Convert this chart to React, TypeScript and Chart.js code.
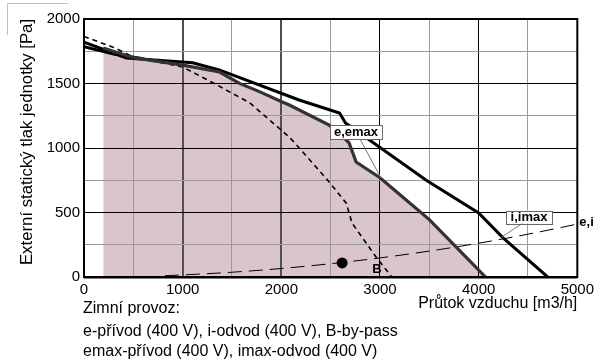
import React, { useEffect, useRef } from 'react';
import { Chart, registerables } from 'chart.js';
Chart.register(...registerables);

// ---- data ----
const xTickLabels = ['0', '1000', '2000', '3000', '4000', '5000'];
const yTickLabels = ['0', '500', '1000', '1500', '2000'];

// i / imax (thick solid)
const curveI: number[][] = [
  [0, 1820], [430, 1698], [1100, 1660], [1370, 1605], [2180, 1372], [2590, 1271],
  [2650, 1194], [3465, 752], [4000, 496], [4250, 302], [4700, 0],
];
const curveImax: number[][] = [[0, 1785], [300, 1728], [600, 1692]];

// e / emax (shaded area boundary)
const curveE: number[][] = [
  [195, 1775], [500, 1700], [1000, 1643], [1374, 1589], [1576, 1501], [1778, 1437],
  [2010, 1357], [2081, 1333], [2485, 1178], [2636, 1078], [2687, 1039], [2758, 891],
  [3000, 770], [3200, 640], [3500, 445], [3800, 210], [4070, 0],
];

// B by-pass (short dashes)
const curveB: number[][] = [
  [0, 1865], [300, 1780], [500, 1705], [1000, 1628], [1320, 1500], [1680, 1350],
  [2080, 1085], [2182, 1000], [2470, 750], [2657, 574], [2717, 418], [2960, 155], [3120, 0],
];

// system curve e,i (long dashes)
const systemCurve: number[][] = [
  [820, 10], [1000, 16], [1500, 37], [2000, 66], [2500, 103], [3000, 148],
  [3500, 201], [4000, 262], [4500, 332], [5000, 410],
];

const workPoint: number[][] = [[2616, 109]];

const yTitle = 'Externí statický tlak jednotky [Pa]';
const xTitle = 'Průtok vzduchu [m3/h]';
const noteLines = [
  'Zimní provoz:',
  'e-přívod (400 V), i-odvod (400 V), B-by-pass',
  'emax-přívod (400 V), imax-odvod (400 V)',
];
const labelE = 'e,emax';
const labelI = 'i,imax';
const labelSys = 'e,i';
const labelB = 'B';

const FONT = '"Liberation Sans", Arial, sans-serif';
const FILL = '#d9c5ca';

const pts = (a: number[][]) => a.map(([x, y]) => ({ x, y }));

const decor = {
  id: 'decor',
  afterDraw(chart: any) {
    const { ctx, chartArea: ca, scales } = chart;
    const xs = scales.x, ys = scales.y;
    ctx.save();
    // frame
    ctx.strokeStyle = '#000';
    ctx.lineWidth = 2;
    ctx.strokeRect(ca.left, ca.top, ca.right - ca.left, ca.bottom - ca.top);
    ctx.beginPath();
    ctx.moveTo(ca.left, ca.bottom + 0.5);
    ctx.lineTo(ca.right, ca.bottom + 0.5);
    ctx.stroke();

    // top-left gray artifact
    ctx.strokeStyle = '#c0c0c0';
    ctx.lineWidth = 1;
    ctx.beginPath();
    ctx.moveTo(7.5, 35);
    ctx.lineTo(7.5, 3.5);
    ctx.lineTo(68, 3.5);
    ctx.stroke();

    // y title
    ctx.fillStyle = '#000';
    ctx.save();
    ctx.font = `16.8px ${FONT}`;
    ctx.translate(27, 142);
    ctx.rotate(-Math.PI / 2);
    ctx.textAlign = 'center';
    ctx.textBaseline = 'middle';
    ctx.fillText(yTitle, 0, 0);
    ctx.restore();

    // x title
    ctx.font = `16px ${FONT}`;
    ctx.textAlign = 'right';
    ctx.textBaseline = 'alphabetic';
    ctx.fillText(xTitle, ca.right, 308);

    // notes
    ctx.textAlign = 'left';
    const base = [313, 336, 356];
    noteLines.forEach((t, i) => ctx.fillText(t, ca.left - 1, base[i]));

    // leader lines
    ctx.strokeStyle = '#777';
    ctx.lineWidth = 1;
    ctx.beginPath();
    ctx.moveTo(360, 139);
    ctx.lineTo(xs.getPixelForValue(3010), ys.getPixelForValue(767));
    ctx.moveTo(523, 223);
    ctx.lineTo(xs.getPixelForValue(4235), ys.getPixelForValue(310));
    ctx.stroke();

    // label boxes
    const box = (t: string, cx: number, cy: number, w: number, h: number) => {
      ctx.fillStyle = '#fff';
      ctx.fillRect(cx - w / 2, cy - h / 2, w, h);
      ctx.strokeStyle = '#666';
      ctx.lineWidth = 1;
      ctx.strokeRect(Math.round(cx - w / 2) + 0.5, Math.round(cy - h / 2) + 0.5, w, h);
      ctx.fillStyle = '#000';
      ctx.font = `bold 13px ${FONT}`;
      ctx.textAlign = 'center';
      ctx.textBaseline = 'middle';
      ctx.fillText(t, cx, cy + 0.5);
    };
    box(labelE, 356, 132, 52, 14);
    box(labelI, 529, 217, 46, 13);

    ctx.font = `bold 13px ${FONT}`;
    ctx.fillStyle = '#000';
    ctx.textAlign = 'left';
    ctx.textBaseline = 'middle';
    ctx.fillText(labelSys, ca.right + 2, 222);
    ctx.textAlign = 'center';
    ctx.fillText(labelB, 377, 269);
    ctx.restore();
  },
};

export default function App() {
  const ref = useRef<HTMLCanvasElement>(null);
  useEffect(() => {
    if (!ref.current) return;
    const chart = new Chart(ref.current, {
      type: 'line',
      data: {
        datasets: [
          {
            label: 'fill',
            data: pts(curveE),
            backgroundColor: FILL,
            borderWidth: 0,
            fill: 'origin',
            pointRadius: 0,
            tension: 0,
          },
          {
            label: 'e-outer',
            data: pts(curveE),
            borderColor: '#333',
            borderWidth: 3.2,
            fill: false,
            pointRadius: 0,
          },
          {
            label: 'e-inner',
            data: pts(curveE),
            borderColor: '#f2e8ea',
            borderWidth: 1.4,
            fill: false,
            pointRadius: 0,
          },
          {
            label: 'B',
            data: pts(curveB),
            borderColor: '#000',
            borderWidth: 1.6,
            borderDash: [5, 4],
            fill: false,
            pointRadius: 0,
          },
          {
            label: 'sys',
            data: pts(systemCurve),
            borderColor: '#000',
            borderWidth: 1,
            borderDash: [14, 7],
            fill: false,
            pointRadius: 0,
            cubicInterpolationMode: 'monotone',
          },
          {
            label: 'imax',
            data: pts(curveImax),
            borderColor: '#000',
            borderWidth: 3,
            fill: false,
            pointRadius: 0,
          },
          {
            label: 'i',
            data: pts(curveI),
            borderColor: '#000',
            borderWidth: 3,
            fill: false,
            pointRadius: 0,
          },
          {
            label: 'pt',
            data: pts(workPoint),
            borderColor: '#000',
            backgroundColor: '#000',
            showLine: false,
            pointRadius: 5.5,
            pointBorderWidth: 0,
          },
        ],
      },
      options: {
        responsive: false,
        animation: false,
        events: [],
        layout: { padding: { top: 19, right: 19, left: 0, bottom: 0 } },
        plugins: {
          legend: { display: false },
          tooltip: { enabled: false },
          filler: { drawTime: 'beforeDraw' },
        } as any,
        scales: {
          x: {
            type: 'linear',
            min: 0,
            max: 5000,
            afterBuildTicks: (s: any) => {
              const t = [];
              for (let v = 0; v <= 5000; v += 500) t.push({ value: v });
              s.ticks = t;
            },
            afterFit: (s: any) => { s.height = 85; },
            border: { display: false },
            grid: {
              drawTicks: false,
              color: (c: any) => {
                const v = c.tick.value;
                if (v === 1000 || v === 2000) return '#505050';
                if (v % 1000 === 0) return '#000';
                return '#9a9a9a';
              },
              lineWidth: (c: any) => {
                const v = c.tick.value;
                if (v === 1000 || v === 2000) return 2;
                return 1;
              },
            },
            ticks: {
              autoSkip: false,
              maxRotation: 0,
              padding: 4,
              color: '#000',
              font: { family: FONT, size: 15 },
              callback: (v: any) => (Number(v) % 1000 === 0 ? xTickLabels[Number(v) / 1000] : ''),
            },
          },
          y: {
            type: 'linear',
            min: 0,
            max: 2000,
            afterBuildTicks: (s: any) => {
              const t = [];
              for (let v = 0; v <= 2000; v += 250) t.push({ value: v });
              s.ticks = t;
            },
            afterFit: (s: any) => { s.width = 84; },
            border: { display: false },
            grid: {
              drawTicks: false,
              color: (c: any) => (c.tick.value % 500 === 0 ? '#000' : '#9a9a9a'),
              lineWidth: 1,
            },
            ticks: {
              autoSkip: false,
              padding: 4,
              color: '#000',
              font: { family: FONT, size: 15 },
              callback: (v: any) => (Number(v) % 500 === 0 ? yTickLabels[Number(v) / 500] : ''),
            },
          },
        },
      },
      plugins: [decor],
    });
    return () => chart.destroy();
  }, []);
  return (
    <div style={{ position: 'absolute', left: 0, top: 0, width: 598, height: 362, background: '#fff' }}>
      <canvas ref={ref} width={598} height={362} style={{ width: 598, height: 362 }} />
    </div>
  );
}
